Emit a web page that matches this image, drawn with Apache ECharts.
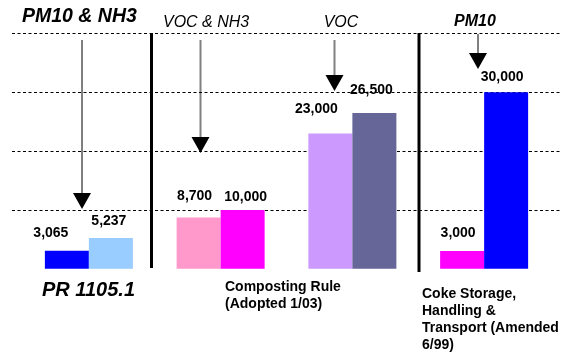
<!DOCTYPE html>
<html>
<head>
<meta charset="utf-8">
<script src="https://cdn.jsdelivr.net/npm/echarts@6/dist/echarts.min.js"></script>
<style>html,body{margin:0;padding:0;background:#fff;}#c{width:572px;height:357px;}</style>
</head>
<body>
<div id="c"></div>
<script>
var categories = ['PR 1105.1 (PM10 & NH3)', 'Composting (VOC & NH3)', 'Composting (VOC)', 'Coke Storage (PM10)'];
var seriesA = [3065, 8700, 23000, 3000];
var seriesB = [5237, 10000, 26500, 30000];
var colorsA = ['#0000FF', '#FF99CC', '#CC99FF', '#FF00FF'];
var colorsB = ['#99CCFF', '#FF00FF', '#666699', '#0000FF'];
var yTicks = [0, 10000, 20000, 30000, 40000];

var offsetsA = [[-16, -6], [-4, -9], [-14, -12], [-4, -6]];
var offsetsB = [[-2, -5], [3, -1], [-3, -11], [-4, -3]];
var FONT = 'Liberation Sans, Arial, sans-serif';

function fmt(v) { return v.toLocaleString('en-US'); }
function build(vals, colors, offs) {
  return vals.map(function (v, i) {
    return {
      value: v,
      itemStyle: { color: colors[i] },
      label: { offset: offs[i] }
    };
  });
}
var labelCommon = {
  show: true, position: 'top', distance: 5,
  fontFamily: FONT, fontWeight: 'bold', fontSize: 14, color: '#000',
  formatter: function (p) { return fmt(p.value); }
};

function arrow(x, y0, yHead, color, w) {
  return [
    { type: 'line', shape: { x1: x, y1: y0, x2: x, y2: yHead }, style: { stroke: color, lineWidth: w } },
    { type: 'polygon', shape: { points: [[x - 9, yHead], [x + 9, yHead], [x, yHead + 16]] }, style: { fill: '#000' } }
  ];
}
function txt(x, y, text, font, align, lh) {
  return { type: 'text', x: x, y: y, style: { text: text, font: font, fill: '#000', align: align || 'left', verticalAlign: lh ? 'top' : 'middle', lineHeight: lh || undefined } };
}

var graphics = [].concat(
  [
    { type: 'line', shape: { x1: 151.5, y1: 33, x2: 151.5, y2: 268 }, style: { stroke: '#000', lineWidth: 3 } },
    { type: 'line', shape: { x1: 419, y1: 33, x2: 419, y2: 272 }, style: { stroke: '#000', lineWidth: 3 } }
  ],
  arrow(82, 40, 193, '#000', 1),
  arrow(200.5, 40, 137, '#808080', 2),
  arrow(334.5, 40, 75, '#808080', 2),
  arrow(478, 34, 53, '#808080', 2),
  [
    txt(22, 17, 'PM10 & NH3', 'italic bold 19.5px ' + FONT),
    txt(163, 23, 'VOC & NH3', 'italic 16px ' + FONT),
    txt(341, 23, 'VOC', 'italic 16px ' + FONT, 'center'),
    txt(475, 22, 'PM10', 'italic bold 16px ' + FONT, 'center'),
    txt(42, 290, 'PR 1105.1', 'italic bold 20px ' + FONT),
    txt(225, 278.5, 'Composting Rule\n(Adopted 1/03)', 'bold 14px ' + FONT, 'left', 17),
    txt(422, 285.5, 'Coke Storage,\nHandling &\nTransport (Amended\n6/99)', 'bold 14px ' + FONT, 'left', 17)
  ]
);

var chart = echarts.init(document.getElementById('c'), null, { renderer: 'canvas' });
chart.setOption({
  animation: false,
  backgroundColor: '#fff',
  grid: [
    { left: 23, top: 33.5, width: 527, bottom: 88.3, containLabel: false },
    { left: 12, top: 33.5, width: 548, bottom: 88.3, containLabel: false }
  ],
  xAxis: [
    { type: 'category', gridIndex: 0, data: categories, axisLine: { show: false }, axisTick: { show: false }, axisLabel: { show: false }, splitLine: { show: false } },
    { type: 'category', gridIndex: 1, data: [''], axisLine: { show: false }, axisTick: { show: false }, axisLabel: { show: false }, splitLine: { show: false } }
  ],
  yAxis: [
    { type: 'value', gridIndex: 0, min: yTicks[0], max: yTicks[yTicks.length - 1], interval: yTicks[1] - yTicks[0], axisLine: { show: false }, axisTick: { show: false }, axisLabel: { show: false }, splitLine: { show: false } },
    { type: 'value', gridIndex: 1, min: yTicks[0], max: yTicks[yTicks.length - 1], interval: yTicks[1] - yTicks[0], axisLine: { show: false }, axisTick: { show: false }, axisLabel: { show: false },
      splitLine: { show: true, showMinLine: false, lineStyle: { color: '#000', width: 1, type: [3, 2.5] } } }
  ],
  series: [
    { type: 'bar', xAxisIndex: 0, yAxisIndex: 0, barWidth: 44, barGap: '0%', data: build(seriesA, colorsA, offsetsA), label: labelCommon },
    { type: 'bar', xAxisIndex: 0, yAxisIndex: 0, barWidth: 44, barGap: '0%', data: build(seriesB, colorsB, offsetsB), label: labelCommon }
  ],
  graphic: graphics
});
</script>
</body>
</html>
